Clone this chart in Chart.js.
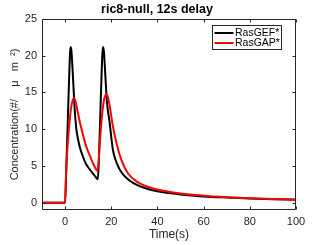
<!DOCTYPE html>
<html><head><meta charset="utf-8">
<script src="https://cdn.jsdelivr.net/npm/chart.js@4"></script>
<style>html,body{margin:0;padding:0;background:#fff;overflow:hidden}#wrap{width:327px;height:245px;position:relative}</style>
</head><body><div id="wrap"><canvas id="c" width="327" height="245"></canvas></div>
<script>
const chartTitle = 'ric8-null, 12s delay';
const xTitle = 'Time(s)';
const yTitle = 'Concentration(#/    μ   m  ²)';
const seriesNames = ['RasGEF*', 'RasGAP*'];
const seriesColors = ['#000000', '#ff0000'];
const xTicks = [0, 20, 40, 60, 80, 100];
const yTicks = [0, 5, 10, 15, 20, 25];

const gefTime = [-10, 0, 0.5, 1, 1.5, 2, 2.3, 2.7, 3.3, 4, 4.8, 5.5, 6.5, 7.7, 9, 10.5, 12, 13, 14.2, 14.7, 15.2, 15.7, 16.1, 16.4, 16.8, 17.4, 18.1, 19.3, 20.7, 22, 23.5, 25, 27.2, 30, 34.5, 40, 45, 50, 60, 70, 80, 90, 100];
const gefValues = [0, 0, 4.5, 9.5, 14.5, 19.3, 21.2, 20.8, 17.8, 13.5, 10.2, 8.8, 7.4, 6.3, 5.3, 4.6, 4.0, 3.6, 3.2, 6.5, 11.5, 16.5, 20.0, 21.2, 20.6, 17.5, 13.8, 10.9, 7.2, 5.7, 4.6, 3.9, 3.2, 2.6, 2.0, 1.55, 1.3, 1.1, 0.85, 0.7, 0.58, 0.48, 0.4];

const gapTime = [-10, 0, 0.4, 1, 1.9, 2.5, 3.0, 3.8, 4.5, 5.5, 6.5, 7.7, 8.8, 9.8, 11, 12, 13, 14.0, 14.5, 15, 15.6, 16.2, 16.8, 17.3, 17.8, 18.4, 19.3, 20.7, 22.2, 24.3, 27.2, 31.6, 37.4, 43.2, 50, 60, 70, 80, 90, 100];
const gapValues = [0, 0, 3.8, 7.3, 10.9, 12.7, 13.6, 14.2, 13.8, 12.3, 10.8, 9.3, 8.0, 7.1, 6.2, 5.4, 4.8, 4.3, 5.5, 8.0, 10.5, 12.5, 13.9, 14.5, 14.8, 14.5, 13.2, 10.4, 8.2, 5.9, 4.0, 2.75, 2.0, 1.6, 1.25, 0.95, 0.75, 0.6, 0.5, 0.42];

const FONT = "'Liberation Sans', Arial, Helvetica, sans-serif";
const AXIS_COLOR = '#262626';

function toPoints(xs, ys) { return xs.map((x, i) => ({ x: x, y: ys[i] })); }

const framePlugin = {
  id: 'frame',
  afterDatasetsDraw(chart) {
    const ctx = chart.ctx, a = chart.chartArea;
    const xs = chart.scales.x, ys = chart.scales.y;
    const L = a.left + 0.5, T = a.top + 0.5, R = a.right - 0.5, B = a.bottom - 0.5;
    ctx.save();
    ctx.strokeStyle = AXIS_COLOR;
    ctx.lineWidth = 1;
    ctx.beginPath();
    ctx.rect(L, T, R - L, B - T);
    xTicks.forEach(v => {
      const px = Math.round(xs.getPixelForValue(v)) + 0.5;
      ctx.moveTo(px, B); ctx.lineTo(px, B - 3);
      ctx.moveTo(px, T); ctx.lineTo(px, T + 3);
    });
    yTicks.forEach(v => {
      const py = Math.round(ys.getPixelForValue(v)) + 0.5;
      ctx.moveTo(L, py); ctx.lineTo(L + 3, py);
      ctx.moveTo(R, py); ctx.lineTo(R - 3, py);
    });
    ctx.stroke();
    ctx.restore();
  },
  afterDraw(chart) {
    const ctx = chart.ctx;
    ctx.save();
    ctx.fillStyle = '#000';
    ctx.font = 'bold 12.5px ' + FONT;
    ctx.textAlign = 'center';
    ctx.textBaseline = 'middle';
    ctx.fillText(chartTitle, 157, 10);
    const bx = 212.5, by = 25.5, bw = 69, bh = 24;
    ctx.fillStyle = '#fff';
    ctx.fillRect(bx, by, bw, bh);
    ctx.strokeStyle = AXIS_COLOR;
    ctx.lineWidth = 1;
    ctx.strokeRect(bx, by, bw, bh);
    ctx.font = '10.5px ' + FONT;
    ctx.textAlign = 'left';
    ctx.textBaseline = 'middle';
    const rows = [33, 43];
    chart.data.datasets.slice().sort((p, q) => p.legendIndex - q.legendIndex).forEach((ds, i) => {
      ctx.strokeStyle = ds.borderColor;
      ctx.lineWidth = 2;
      ctx.beginPath();
      ctx.moveTo(214.5, rows[i]); ctx.lineTo(233.5, rows[i]);
      ctx.stroke();
      ctx.fillStyle = '#000';
      ctx.fillText(ds.label, 235, rows[i] + 0.5);
    });
    ctx.restore();
  }
};

new Chart(document.getElementById('c'), {
  type: 'line',
  data: {
    datasets: [
      { label: seriesNames[0], legendIndex: 0, data: toPoints(gefTime, gefValues), borderColor: seriesColors[0], borderWidth: 2, pointRadius: 0, fill: false, cubicInterpolationMode: 'monotone', order: 1 },
      { label: seriesNames[1], legendIndex: 1, data: toPoints(gapTime, gapValues), borderColor: seriesColors[1], borderWidth: 2, pointRadius: 0, fill: false, cubicInterpolationMode: 'monotone', order: 0 }
    ]
  },
  options: {
    responsive: false,
    animation: false,
    devicePixelRatio: 1,
    layout: { padding: { top: 19, right: 31, left: 0, bottom: 0 } },
    plugins: { legend: { display: false }, title: { display: false }, tooltip: { enabled: false } },
    scales: {
      x: {
        type: 'linear', min: -10, max: 100,
        afterBuildTicks: s => { s.ticks = xTicks.map(v => ({ value: v })); },
        afterFit: s => { s.height = 35; },
        grid: { display: false, drawTicks: false },
        border: { display: false },
        ticks: { color: AXIS_COLOR, font: { family: FONT, size: 11 }, padding: 5, maxRotation: 0 },
        title: { display: true, text: xTitle, color: AXIS_COLOR, font: { family: FONT, size: 12 }, padding: { top: 0, bottom: 3 } }
      },
      y: {
        type: 'linear', min: -1, max: 25,
        afterBuildTicks: s => { s.ticks = yTicks.map(v => ({ value: v })); },
        afterFit: s => { s.width = 42; },
        grid: { display: false, drawTicks: false },
        border: { display: false },
        ticks: { color: AXIS_COLOR, font: { family: FONT, size: 11 }, padding: 5 },
        title: { display: true, text: yTitle, color: AXIS_COLOR, font: { family: FONT, size: 11 }, padding: { top: 8, bottom: 0 } }
      }
    }
  },
  plugins: [framePlugin]
});
</script>
</body></html>
